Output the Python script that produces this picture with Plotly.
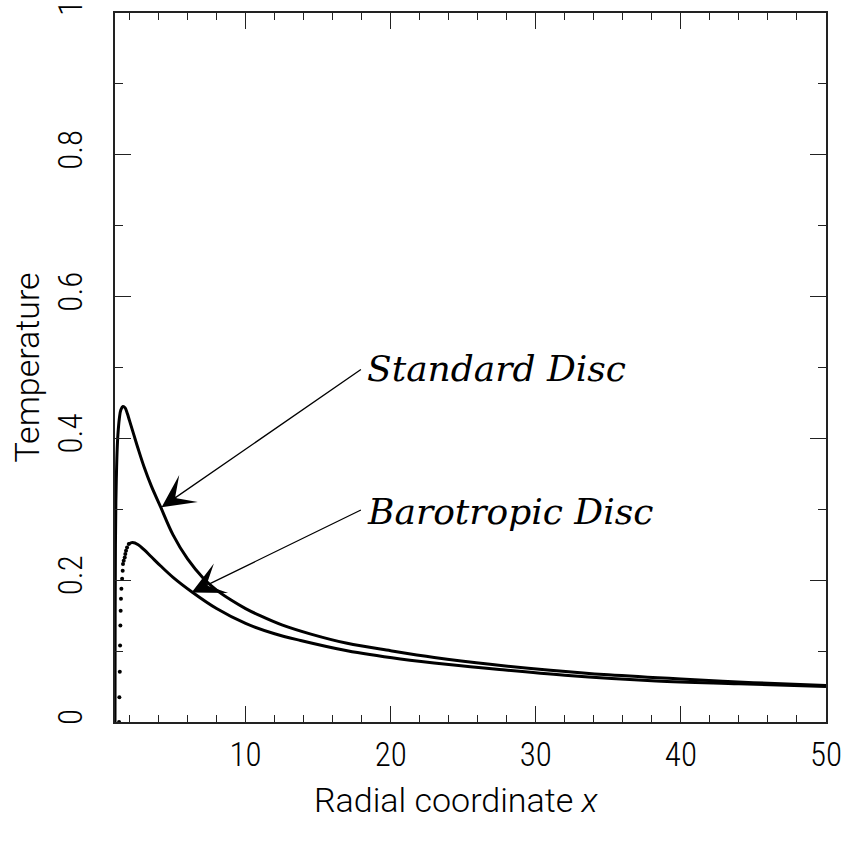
import plotly.graph_objects as go

# Standard disc
std_x = [1.0, 1.01, 1.03, 1.06, 1.1, 1.15, 1.2, 1.3, 1.4, 1.55, 1.7, 1.85, 2.0, 2.3, 2.6,
         3.0, 3.5, 4.15, 5.0, 6.0, 7.1, 8.0, 9.0, 10.0, 11.0, 12.5, 14.5, 17.0, 20.0,
         23.0, 27.0, 31.0, 35.0, 40.0, 45.0, 50.0]
std_t = [0.0, 0.15, 0.25, 0.31, 0.35, 0.385, 0.405, 0.428, 0.44, 0.445, 0.443, 0.435, 0.425,
         0.405, 0.385, 0.36, 0.333, 0.303, 0.264, 0.230, 0.2025, 0.186, 0.172, 0.160, 0.150,
         0.137, 0.124, 0.111, 0.1005, 0.091, 0.081, 0.073, 0.0665, 0.0605, 0.0555, 0.0515]

# Barotropic disc: sparse dotted rise (individual markers)
baro_dot_x = [1.28, 1.3, 1.33, 1.35, 1.37, 1.39, 1.41, 1.44, 1.49, 1.53, 1.55, 1.60, 1.67,
              1.71, 1.76, 1.83, 1.95]
baro_dot_t = [0.0, 0.035, 0.071, 0.108, 0.136, 0.157, 0.174, 0.188, 0.202, 0.2135, 0.223,
              0.2275, 0.232, 0.237, 0.2416, 0.246, 0.251]

# Barotropic disc: solid part
baro_x = [1.95, 2.2, 2.6, 3.0, 3.5, 4.15, 5.0, 6.33, 8.0, 10.0, 12.0, 13.79, 17.0,
          20.67, 24.0, 27.5, 32.0, 38.3, 44.0, 50.0]
baro_t = [0.251, 0.253, 0.250, 0.243, 0.233, 0.220, 0.204, 0.183, 0.160, 0.139, 0.1245,
          0.115, 0.1005, 0.089, 0.081, 0.074, 0.066, 0.058, 0.054, 0.050]

x_ticks = [10, 20, 30, 40, 50]
y_ticks = [0, 0.2, 0.4, 0.6, 0.8, 1]
y_tick_labels = ["0", "0.2", "0.4", "0.6", "0.8", "1"]

TICKFONT = dict(family="Roboto Condensed, Roboto, DejaVu Sans Condensed, sans-serif",
                size=33, color="black", weight=300)
TITLEFONT = dict(family="Roboto, DejaVu Sans, sans-serif", size=34, color="black", weight=300)
SERIF = "DejaVu Serif, Liberation Serif, serif"

fig = go.Figure()
fig.add_trace(go.Scatter(x=std_x, y=std_t, mode="lines",
                         line=dict(color="black", width=3, shape="spline", smoothing=1),
                         showlegend=False, hoverinfo="skip"))
fig.add_trace(go.Scatter(x=baro_x, y=baro_t, mode="lines",
                         line=dict(color="black", width=3, shape="spline", smoothing=1),
                         showlegend=False, hoverinfo="skip"))
fig.add_trace(go.Scatter(x=baro_dot_x, y=baro_dot_t, mode="markers",
                         marker=dict(color="black", size=4),
                         showlegend=False, hoverinfo="skip"))

# arrows
fig.add_annotation(x=4.21, y=0.303, ax=18.05, ay=0.4986, xref="x", yref="y",
                   axref="x", ayref="y", text="", showarrow=True, arrowhead=3,
                   arrowsize=4.2, arrowwidth=1.3, arrowcolor="black", standoff=0)
fig.add_annotation(x=6.28, y=0.1826, ax=18.05, ay=0.30, xref="x", yref="y",
                   axref="x", ayref="y", text="", showarrow=True, arrowhead=3,
                   arrowsize=4.2, arrowwidth=1.3, arrowcolor="black", standoff=0)
# labels
fig.add_annotation(x=18.2, y=0.4986, xref="x", yref="y", text="<i>Standard Disc</i>",
                   showarrow=False, xanchor="left", yanchor="middle",
                   font=dict(family=SERIF, size=36, color="black"))
fig.add_annotation(x=18.2, y=0.297, xref="x", yref="y", text="<i>Barotropic Disc</i>",
                   showarrow=False, xanchor="left", yanchor="middle",
                   font=dict(family=SERIF, size=36, color="black"))
# x-axis title (slightly left of centre, as in the reference)
fig.add_annotation(x=0.481, y=0, xref="paper", yref="paper", yshift=-78,
                   text="Radial coordinate <i>x</i>", showarrow=False,
                   xanchor="center", yanchor="middle", font=TITLEFONT)

axis_common = dict(showline=True, linecolor="#222", linewidth=2, mirror="ticks",
                   ticks="inside", tickcolor="#222", tickwidth=1.3, showgrid=False,
                   zeroline=False, tickfont=TICKFONT, automargin=False,
                   ticklabeloverflow="allow")

fig.update_xaxes(range=[1, 50], tickvals=x_ticks, ticklen=16,
                 minor=dict(ticks="inside", ticklen=7, dtick=2, tick0=0,
                            tickcolor="#222", tickwidth=1.3, showgrid=False),
                 ticklabelstandoff=2,
                 **axis_common)
fig.update_yaxes(range=[0, 1], tickvals=y_ticks, ticktext=y_tick_labels, ticklen=16,
                 tickangle=-90,
                 minor=dict(ticks="inside", ticklen=8, dtick=0.1, tick0=0,
                            tickcolor="#222", tickwidth=1.3, showgrid=False),
                 ticklabelstandoff=18,
                 title=dict(text="Temperature", standoff=1, font=TITLEFONT),
                 **axis_common)

fig.update_layout(width=851, height=842, margin=dict(l=115, r=25, t=13, b=120),
                  plot_bgcolor="white", paper_bgcolor="white")

fig.write_html("out.html")
